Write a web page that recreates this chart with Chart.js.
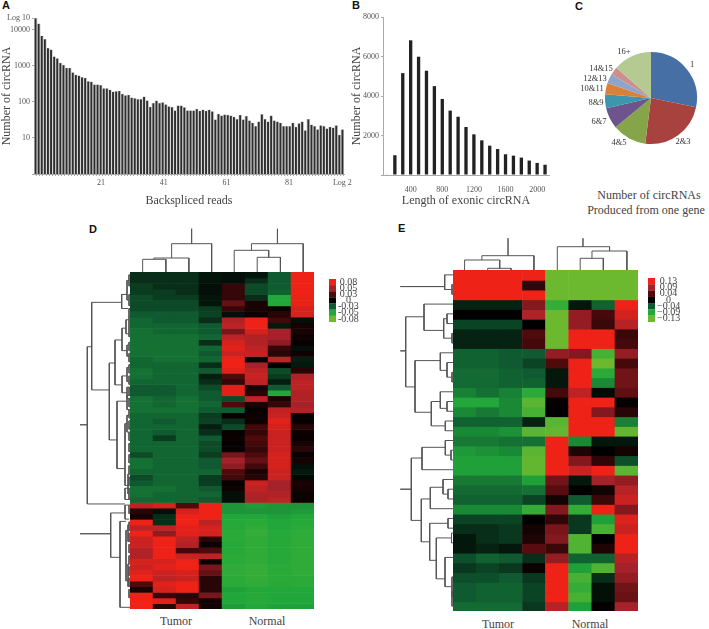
<!DOCTYPE html>
<html>
<head>
<meta charset="utf-8">
<title>circRNA figure</title>
<script src="https://cdn.jsdelivr.net/npm/chart.js@4"></script>
<style>
html, body { margin: 0; padding: 0; background: #fff; }
body { width: 709px; height: 629px; position: relative; overflow: hidden; }
canvas { position: absolute; }
.t { position: absolute; transform: translate(-50%, -50%); white-space: nowrap; font: 12px "Liberation Serif", serif; color: #444; }
.p { position: absolute; font: bold 11px "Liberation Sans", sans-serif; color: #111; line-height: 11px; }
</style>
</head>
<body>
<div class="p" style="left:2px;top:0px">A</div>
<div class="p" style="left:352px;top:0px">B</div>
<div class="p" style="left:575px;top:1px">C</div>
<div class="p" style="left:89px;top:224px">D</div>
<div class="p" style="left:398px;top:223px">E</div>
<div class="t" style="left:649px;top:195px">Number of circRNAs</div>
<div class="t" style="left:646px;top:210px">Produced from one gene</div>
<div class="t" style="left:176px;top:621px">Tumor</div>
<div class="t" style="left:267px;top:621px">Normal</div>
<div class="t" style="left:498px;top:624px">Tumor</div>
<div class="t" style="left:590px;top:624px">Normal</div>
<script>
const FONT = '"Liberation Serif", serif';
Chart.defaults.font.family = FONT;
Chart.defaults.animation = false;
Chart.defaults.responsive = false;
Chart.defaults.plugins.legend.display = false;
Chart.defaults.plugins.tooltip.enabled = false;

// panel A, backspliced reads
const aValues = [21000,14700,6800,5500,3100,2800,1800,1600,1200,1050,870,870,650,560,530,480,460,370,360,300,300,290,235,235,215,190,195,200,165,150,155,130,125,118,118,138,108,72,92,107,92,96,84,74,71,57,78,78,70,
  57,57,57,63,56,60,56,60,54,32,46,41,44,43,41,38,33,43,32,40,30,26,21,28,45,33,28,41,30,28,26,21,21,21,26,20,25,28,16,33,23,21,17,22,21,18,20,19,22,12,17];
const aYTicks = [10, 100, 1000, 10000, 21500];
const aYLabels = ['10', '100', '1000', '10000', 'Log 10'];
const aXTicks = [21, 41, 61, 81, 98];
const aXLabels = ['21', '41', '61', '81', 'Log 2'];

// panel B, length of exonic circRNA
const bCategories = ['100','200','300','400','500','600','700','800','900','1000','1100','1200','1300','1400','1500','1600','1700','1800','1900','2000','2100'];
const bValues = [30,1000,5160,6820,5990,5280,4500,3850,3260,2950,2430,2060,1755,1485,1315,1050,980,880,730,610,520];
const bXTicks = ['400','800','1200','1600','2000'];

// panel C, circRNAs per gene
const cLabels = ['1','2&3','4&5','6&7','8&9','10&11','12&13','14&15','16+'];
const cValues = [28.2,23.8,12.0,7.4,4.9,4.0,3.3,2.8,13.6];
const cColors = ['#466fa6','#a8423f','#86a44a','#6e548d','#3d96ae','#da8137','#8ea5cb','#ce8e8d','#b5ca92'];
const cLabelOffsets = [[41,-33],[32,44],[-32,45],[-52,24],[-55,5],[-59,-9],[-56,-19],[-50,-29],[-27,-46]];

// heat colours shared by D and E, top of legend first
const heatColors = ['#ee2217','#a5222a','#4f0a0c','#000000','#0f5a30','#22a83a','#6cb92f'];

// panel D, values in hundredths
const dLevels = [8,5,3,0,-3,-5,-8];
const dLegend = ['0.08','0.05','0.03','0','-0.03','-0.05','-0.08'];
const heatColumns = ['T1','T2','T3','T4','N1','N2','N3','N4'];
const dRows = [
[-1.5,-1.5,-1.5,-.7,-.5,-.7,-3,8],
[-1.5,-1.5,-1.5,-.7,-.5,-1.5,-3,8],
[-2,-1.5,-1.5,-.5,2,-2.5,-3,8],
[-2,-2,-1.5,-.5,2,-2.5,-3.2,8],
[-2.5,-2,-2,-.7,2,-1.5,-5,7.8],
[-2.5,-2.5,-2.5,-.7,3.5,1,-5,7.8],
[-2.5,-2.5,-2.5,-2,2,1,.5,7],
[-3,-3,-3,-2.2,-.5,.5,1.5,7],
[-3.3,-3,-3,-1.5,5.5,8,2.5,-.5],
[-3.3,-3.3,-3.3,-3,6,8,-.8,.8],
[-3.6,-3.3,-3.3,-3,4,7,5,1],
[-3.6,-3.6,-3.6,-3.3,6,5.5,5,.5],
[-3.6,-3.6,-3.6,-1.5,7,5.5,4.5,.3],
[-3.6,-3.6,-3.6,-3.3,7.5,6,2,-.5],
[-3.6,-3.6,-3.6,-3,6.5,6.5,1.5,.6],
[-3.3,-3.6,-3.6,-3.3,8,.3,6,-1],
[-3.3,-3.3,-3.3,-1.5,8,5,0,-.8],
[-3.6,-3.3,-3.3,-3,7.5,6,-2.5,1.5],
[-3.6,-3.3,-3.3,-1,3,6.5,-2,5.5],
[-3.3,-3.3,-3.3,-1.5,2,6,-1,6],
[-3,-3,-3.3,-2.5,7.5,1,-3,6],
[-3,-3,-3.3,-3,7.5,1.5,-5,5.5],
[-3.6,-3.3,-3.6,-3,-2.5,6,1,5.5],
[-3.6,-3.3,-3.6,-3.3,3,1,2,5],
[-3.6,-3.6,-3.6,-3,-3,.3,6,5.5],
[-3.3,-3.3,-3.3,-2,.3,.5,6.5,.2],
[-3.3,-3,-3.3,-2.2,-1.5,.5,7.5,.3],
[-3.3,-3.3,-3.3,-1,-2.5,2.5,7,1.5],
[-3.3,-3,-3.3,-1.5,.3,2,6.5,.5],
[-3.3,-2,-3.3,-3,.5,3,6.5,.3],
[-3.3,-3.3,-3.3,-2.5,.2,2.5,6.5,1],
[-3.3,-3.3,-3.3,-2.5,.3,2,6.5,1.5],
[-2.5,-3.3,-3.3,-2,4,3,7,.3],
[-3.6,-3.3,-3.3,-3,5,3.5,7,.8],
[-3.6,-3.3,-3.3,-3,4.5,2.5,7,-.5],
[-3.3,-3.3,-3.3,-3.3,3,1,6.5,-.8],
[-2.5,-3.3,-3.3,-2,2.5,1.5,6.5,-.3],
[-3,-3.3,-3.3,-2,.3,6.5,5,1],
[-3.6,-3.6,-3.3,-3,.5,6,5,.8],
[-3.6,-3.3,-3.3,-3.3,-.5,5.5,5.5,.5],
[-3.3,-3.3,-3.3,-3,-.5,5.5,6,.5],
[6,7,3,8,-4.5,-4.7,-4.5,-4.5],
[1.5,-.5,7,8,-4.5,-4.5,-4.5,-4.7],
[.8,-1.5,8,8,-5,-5,-4.8,-5],
[8,-1.5,8,6,-5.2,-5.3,-5,-5.2],
[6,6,7.5,7,-5.2,-5.6,-5,-5.3],
[8,4.5,7.5,7,-5.3,-5.8,-5.2,-5.5],
[6.5,8,6,1.5,-5.3,-5.6,-5.2,-5.5],
[6.5,8,5.5,.5,-5.2,-5.5,-5.2,-5.5],
[5.5,8,2.5,3,-5.2,-5.6,-5.2,-5.5],
[5.5,8,6.5,6,-5.3,-5.6,-5.2,-5.5],
[7,7,8,.5,-5.3,-5.6,-5.2,-5.5],
[6.5,7.5,8,4,-5.5,-5.8,-5.3,-5.5],
[7.5,6.5,7,3.5,-5.5,-5.8,-5.3,-5.5],
[8,6,6.5,1.5,-5.4,-5.7,-5.3,-5.4],
[3,7.5,8,1.5,-5.3,-5.5,-5.2,-5.4],
[1,7,8,1.5,-4.8,-5,-5,-5],
[8,2,1.5,4,-5,-5.2,-5,-5],
[8,7.5,2,.7,-5,-5.2,-5,-5],
[8,1.5,6,.7,-4.7,-5,-4.8,-4.8]
];

// panel E, values in hundredths
const eLevels = [13,9,4,0,-4,-9,-13];
const eLegend = ['0.13','0.09','0.04','0','\u22120.04','\u22120.09','\u22120.13'];
const eRows = [
[13,13,13,13,-13,-13,-13,-13],
[13,13,13,2.5,-13,-13,-13,-13],
[13,13,13,13,-13,-13,-13,-13],
[-1.5,-1.5,-1.5,7,-10,-1,-4.5,13],
[0,0,0,9.5,-13,8,3.5,11.5],
[-3,-3,-3,0,-13,8,3,10],
[-1.5,-1.5,-1.5,4,-13,13,13,3],
[-1.5,-1.5,-1.5,3.5,-13,13,13,3.5],
[-4.5,-4.5,-4,-4,8,7,-11,8],
[-4.5,-4.5,-4,-3,4,13,-13,3.5],
[-5,-5,-4.5,-4,-1,13,-9.5,6],
[-5,-5,-4.5,-4.5,-1,13,-7,6],
[-6.5,-5.5,-6.5,-9.5,3.5,10.5,-.5,5],
[-9,-9,-7,-12,.3,13,13,.3],
[-7,-6,-7,-11,0,13,7,2],
[-4.5,-4.5,-4.5,-1.5,-12,13,13,-6.5],
[-7,-7,-7.5,-12,-12.5,13,13,-12.5],
[-6,-6,-5.5,-5.5,13,-7,-1,-1],
[-8,-7.5,-7,-12,13,1.5,0,1],
[-8.5,-8.5,-8.5,-12.5,13,7,2.5,-3.5],
[-8.5,-8.5,-8.5,-12.5,13,11,13,-12],
[-6,-6,-6,-8.5,6,-1,9,8],
[-5,-5,-5,-5.5,4.5,0,1,10],
[-4.5,-4.5,-4.5,-3,1,-4,3,11],
[-7,-7,-7,-10,7,-10,13,7],
[-3,-3,-3,0,2.5,-2.5,-8.5,12],
[-2,-2,-2.5,1,6.5,-2.5,-11,11],
[-1,-2,-2.5,1.5,7,-11.5,0,13],
[-1,-1.5,-1,4.5,3,-11.5,1.5,13],
[-3.5,-4.5,-4,-2,8,-4.5,-4.5,10],
[-2.5,-3,-2.5,.5,13,-8.5,-11.5,9],
[-3.5,-3.5,-4,-2.5,13,-11,-2,8],
[-4,-4.5,-4.5,-3,13,-10,-.7,6],
[-4,-4.5,-4.5,-3,13,-11,-.7,5.5],
[-5,-5,-5,-2.5,10,-8.5,.3,9]
];

// dendrograms: [merge height, first leaf, second leaf, first child height, second child height]
const dTop = [[28.3,1.81,3.55,14,0],[14,1.04,2.56,12.7,0],[12.7,.55,1.56,0,0],[43.3,2.68,2.68,28.3,28.3],
  [28.3,5.28,7.53,21.7,0],[21.7,4.53,6.03,0,14.7],[14.7,5.53,6.54,0,0],[43.3,6.41,6.41,28.3,28.3]];
const dLeft = [[50,27.2,27.2,42.7,42.7],[42.7,13.3,41.3,38.3,5],[38.3,5.4,21,8.3,20.7],[8.3,4,6.5,3,2],[3,1.5,5,1,1],
  [20.7,16.2,29.9,15,13],[15,12.1,20.1,8,8],[8,10,14,4,3],[4,8.5,11,1,1],[3,13,15,1,1],[8,18.5,21.5,3,3],[3,17,19.5,1,1],[3,20.5,22.5,1,1],
  [13,23,35,3,5],[3,22,24.5,1,1],[5,27,38,3,2],[3,25.5,28.5,1,1],[2,36,39.5,1,1],[5,38.5,40.5,1,1],
  [50,46.6,46.6,19.3,19.3],[19.3,42.9,50.8,5,10],[5,41.5,44,1,1],[10,44.4,59.7,4,0],[4,46,55,2,2],[2,45,48,1,1],[2,52,56,1,1],
  [1,.5,2.5,0,0],[1,4,6,0,0],[1,6.5,8,0,0],[1,8,10,0,0],[1,10,11.5,0,0],[1,12.5,14,0,0],[1,14.5,16,0,0],[1,16.5,18,0,0],[1,18.5,20,0,0],
  [1,20.5,22,0,0],[1,22.5,24,0,0],[1,24.5,26,0,0],[1,26.5,28,0,0],[1,28.5,30,0,0],[1,30.5,32,0,0],[1,32.5,34,0,0],[1,34.5,36,0,0],[1,36.5,38,0,0],[1,38.5,40.5,0,0],
  [1,41.5,43,0,0],[1,44.5,46,0,0],[1,46.5,48,0,0],[1,48.5,50,0,0],[1,50.5,52,0,0],[1,52.5,54,0,0],[1,54.5,56,0,0],[1,56.5,58,0,0]];
const eTop = [[14.3,1.25,3.5,10,0],[10,.5,2.02,0,1.7],[1.7,1.5,2.51,0,0],[31.7,2.38,2.38,14.3,14.3],
  [23.3,4.51,6.77,0,19],[19,6.01,7.52,11.7,0],[11.7,5.5,6.5,0,0],[31.7,5.62,5.62,23.3,23.3]];
const eLeft = [[52.7,1.7,1.7,8.3,8.3],[8.3,.5,2,0,1],[1,1.5,2.5,0,0],
  [52.7,8.3,8.3,47.3,47.3],[47.3,4.8,12,29,38],[29,3.5,6.2,0,9.3],[9.3,5,7,6,1],[6,4.5,5.5,0,0],[1,6.5,7.5,0,0],
  [38,9.3,14.6,12.7,21.7],[12.7,8.5,10.3,0,6],[6,9.5,11,0,1],[1,10.5,11.5,0,0],
  [21.7,13.5,16,12.7,7.7],[12.7,12.5,14.2,0,6],[6,13.5,14.5,0,0],[7.7,15.5,16.5,0,0],
  [52.7,22.5,22.5,41.7,41.7],[41.7,19.3,25.7,31,31.7],[31,18.2,20.5,7.7,0],[7.7,17.5,19,0,2],[2,18.5,19.5,0,0],
  [31.7,23.5,27.9,22.7,23.3],[22.7,22.3,24.5,10,0],[10,21.5,23,0,5],[5,22.5,23.5,0,0],
  [23.3,26,29.8,5,16.7],[5,25.5,26.5,0,0],[16.7,27.5,31.7,1.5,8],[1.5,27,28,0,0],[8,29.5,32.5,0,1],[1,31.5,33.5,0,0],[1,33,34.5,0,0]];

const addChart = (left, top, width, height, config) => {
    const c = document.createElement('canvas');
    c.width = width;
    c.height = height;
    c.style.left = left + 'px';
    c.style.top = top + 'px';
    document.body.append(c);
    return new Chart(c, config);
};

const hexToRgb = h => [1, 3, 5].map(i => parseInt(h.slice(i, i + 2), 16));

const heatColor = (v, levels) => {
    let i = 0;
    while (i < levels.length - 2 && v < levels[i + 1]) i++;
    const t = Math.min(1, Math.max(0, (levels[i] - v) / (levels[i] - levels[i + 1])));
    const a = hexToRgb(heatColors[i]), b = hexToRgb(heatColors[i + 1]);
    return `rgb(${a.map((n, k) => Math.round(n + (b[k] - n) * t)).join(',')})`;
};

const axisTitle = (text, top) => ({ display: true, text, color: '#444', font: { size: 12 }, padding: { top, bottom: 0 } });
const tickStyle = { color: '#555', font: { size: 8 }, padding: 2 };
const axisGrid = { drawOnChartArea: false, tickLength: 2, color: '#aaa' };
const axisBorder = { color: '#aaa' };

addChart(0, 0, 360, 208, {
    type: 'bar',
    data: {
        labels: aValues.map((v, i) => String(i + 1)),
        datasets: [
            { data: aValues, backgroundColor: '#2e2e2e', barPercentage: 0.62, categoryPercentage: 1, grouped: false, order: 1 },
            { data: aValues, backgroundColor: '#d8d8d8', barPercentage: 1, categoryPercentage: 1, grouped: false, order: 2 }
        ]
    },
    options: {
        layout: { padding: { top: 18, right: 16 } },
        scales: {
            x: { display: false },
            // the printed read axis runs a little wider than the bars
            reads: {
                type: 'linear', axis: 'x', position: 'bottom', min: 0.16, max: 98,
                afterFit: s => { s.height = 34; },
                afterBuildTicks: s => { s.ticks = aValues.slice(0, 98).map((v, i) => ({ value: i + 1 })); },
                grid: axisGrid, border: axisBorder,
                ticks: { ...tickStyle, autoSkip: false, maxRotation: 0,
                    callback: v => aXLabels[aXTicks.indexOf(v)] || '' },
                title: axisTitle('Backspliced reads', 0)
            },
            y: {
                type: 'logarithmic', min: 1, max: 21500,
                afterFit: s => { s.width = 34; },
                afterBuildTicks: s => { s.ticks = [1, ...aYTicks].map(value => ({ value })); },
                grid: axisGrid, border: axisBorder,
                ticks: { ...tickStyle, callback: v => aYLabels[aYTicks.indexOf(v)] || '' },
                title: axisTitle('Number of circRNA', 0)
            }
        }
    }
});

addChart(340, 0, 225, 208, {
    type: 'bar',
    data: {
        labels: bCategories,
        datasets: [{ data: bValues, backgroundColor: '#222', barPercentage: 0.42, categoryPercentage: 1 }]
    },
    options: {
        layout: { padding: { top: 17, right: 16 } },
        scales: {
            x: {
                afterFit: s => { s.height = 33; },
                grid: { display: false }, border: axisBorder,
                ticks: { ...tickStyle, autoSkip: false, maxRotation: 0,
                    callback(v) { const l = this.getLabelForValue(v); return bXTicks.includes(l) ? l : ''; } },
                title: axisTitle('Length of exonic circRNA', 0)
            },
            y: {
                min: 0, max: 8000,
                afterFit: s => { s.width = 43; },
                grid: axisGrid, border: axisBorder,
                ticks: { ...tickStyle, stepSize: 2000, callback: v => v === 0 ? '' : String(v) },
                title: axisTitle('Number of circRNA', 10)
            }
        }
    }
});

const pieLabels = {
    id: 'pieLabels',
    afterDraw(chart) {
        const { ctx, width, height } = chart;
        ctx.save();
        ctx.font = '8.5px ' + FONT;
        ctx.fillStyle = '#333';
        ctx.textAlign = 'center';
        ctx.textBaseline = 'middle';
        cLabels.forEach((l, i) => ctx.fillText(l, width / 2 + cLabelOffsets[i][0], height / 2 + cLabelOffsets[i][1]));
        ctx.restore();
    }
};

addChart(571, 40, 160, 116, {
    type: 'pie',
    data: { labels: cLabels, datasets: [{ data: cValues, backgroundColor: cColors, borderWidth: 0 }] },
    options: { radius: 46 },
    plugins: [pieLabels]
});

const addHeat = (left, top, width, height, rows, levels) => addChart(left, top, width, height, {
    type: 'bar',
    data: {
        labels: heatColumns,
        datasets: rows.map((row, r) => ({
            data: row.map(() => [r, r + 1.1]),
            backgroundColor: row.map(v => heatColor(v, levels)),
            grouped: false, barPercentage: 1.02, categoryPercentage: 1
        }))
    },
    options: {
        scales: {
            x: { display: false },
            y: { display: false, min: 0, max: rows.length, reverse: true }
        }
    }
});

const addScale = (left, top, labels, height) => addChart(left, top, 36, height, {
    type: 'bar',
    data: {
        labels,
        datasets: [{ data: labels.map(() => 1), backgroundColor: heatColors, barPercentage: 1.02, categoryPercentage: 1 }]
    },
    options: {
        indexAxis: 'y',
        scales: {
            x: { display: false, min: 0, max: 1 },
            y: {
                position: 'right',
                afterFit: s => { s.width = 29; },
                grid: { display: false, drawTicks: false }, border: { display: false },
                ticks: { color: '#444', font: { size: 10 }, padding: 2, crossAlign: 'center', autoSkip: false }
            }
        }
    }
});

// a bracket is drawn as an open path through the tree's own scales
const treePoints = (brackets, flip) => brackets.flatMap(([h, a, b, ha, hb]) => {
    const path = [[a, ha], [a, h], [b, h], [b, hb]];
    return [...path.map(([p, q]) => flip ? { x: q, y: p } : { x: p, y: q }), { x: null, y: null }];
});

const addTree = (left, top, width, height, brackets, flip, xScale, yScale) => addChart(left, top, width, height, {
    type: 'scatter',
    data: { datasets: [{ data: treePoints(brackets, flip), showLine: true, spanGaps: false, pointRadius: 0, borderColor: '#555', borderWidth: 1, clip: false }] },
    options: {
        scales: {
            x: { display: false, ...xScale },
            y: { display: false, ...yScale }
        }
    }
});

addHeat(130, 272, 184, 337, dRows, dLevels);
addScale(329, 271, dLegend, 59);
addTree(130, 227, 184, 45, dTop, false, { min: 0, max: 8 }, { min: 0, max: 45 });
addTree(78, 272, 52, 337, dLeft, true, { min: 0, max: 52, reverse: true }, { min: 0, max: dRows.length, reverse: true });

addHeat(453, 270, 185, 341, eRows, eLevels);
addScale(648, 270, eLegend, 60);
addTree(453, 233, 185, 37, eTop, false, { min: 0, max: 8 }, { min: 0, max: 37 });
addTree(398, 270, 55, 341, eLeft, true, { min: 0, max: 55, reverse: true }, { min: 0, max: eRows.length, reverse: true });
</script>
</body>
</html>
